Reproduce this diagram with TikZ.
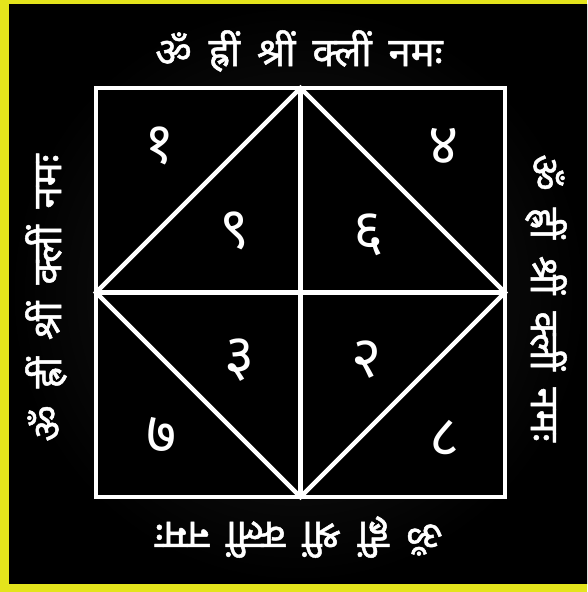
\documentclass[tikz,border=0pt]{standalone}
\usepackage{fontspec}
\newfontfamily\deva[Script=Devanagari]{Noto Sans}
\newfontfamily\devathick[Script=Devanagari, FakeBold=1.2]{Noto Sans}
\definecolor{frameyellow}{RGB}{228,228,28}
\definecolor{centregray}{RGB}{28,28,28}
\newcommand{\mantratext}{ॐ\hspace{0.42em}ह्रीं\hspace{0.42em}श्रीं\hspace{0.42em}क्लीं\hspace{0.42em}नमः}
\tikzset{
  gridline/.style={draw=white, line width=4.5pt, line join=miter, line cap=rect},
  mantra/.style={text=white, font=\devathick\fontsize{40}{44}\selectfont, inner sep=0pt},
  digit/.style={text=white, font=\deva\fontsize{58}{62}\selectfont, inner sep=0pt}
}
\begin{document}
\begin{tikzpicture}[x=1pt,y=-1pt]
\useasboundingbox (0,0) rectangle (587,592);
\fill[frameyellow] (0,0) rectangle (587,592);
\shade[inner color=centregray, outer color=black] (9,4) rectangle (587,583);
\fill[black] (96,88) rectangle (505,497);
% square corners and midpoints
\coordinate (tl) at (96,88);
\coordinate (tr) at (505,88);
\coordinate (br) at (505,497);
\coordinate (bl) at (96,497);
\coordinate (tm) at (300.5,88);
\coordinate (bm) at (300.5,497);
\coordinate (lm) at (96,292.5);
\coordinate (rm) at (505,292.5);
\draw[gridline] (tl) -- (tr) -- (br) -- (bl) -- cycle;
\draw[gridline] (tm) -- (rm) -- (bm) -- (lm) -- cycle;
\draw[gridline] (tm) -- (bm);
\draw[gridline] (lm) -- (rm);
% mantras
\node[mantra] (mtop) at (299,51) {\mantratext};
\node[mantra, rotate=180] (mbottom) at (299,537) {\mantratext};
\node[mantra, rotate=90] (mleft) at (46,298) {\mantratext};
\node[mantra, rotate=-90] (mright) at (546,298) {\mantratext};
% digits
\node[digit] (d1) at (160,146) {१};
\node[digit] (d4) at (444,146) {४};
\node[digit] (d9) at (235,231) {९};
\node[digit] (d6) at (369,235) {६};
\node[digit] (d3) at (240,360) {३};
\node[digit] (d2) at (367,360) {२};
\node[digit] (d7) at (162,435) {७};
\node[digit] (d8) at (445,438) {८};
\end{tikzpicture}
\end{document}
